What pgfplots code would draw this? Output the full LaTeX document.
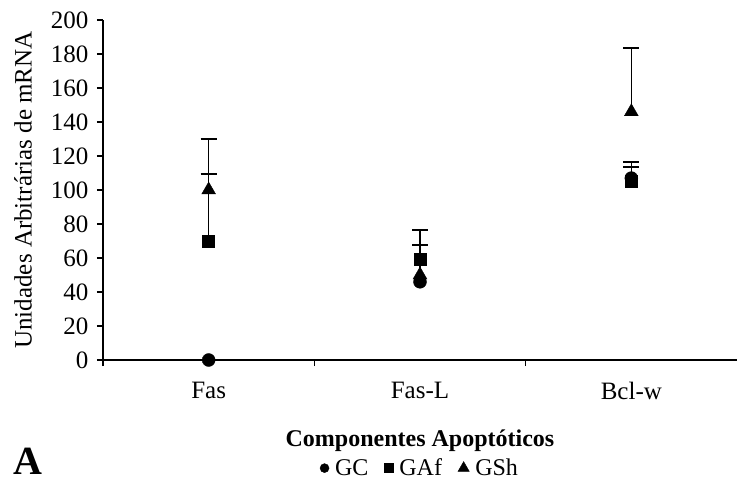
\documentclass[border=0pt]{standalone}
\usepackage{pgfplots}
\pgfplotsset{compat=1.18}
\usepackage{fontspec}
\setmainfont{Liberation Serif}
\begin{document}
\begin{tikzpicture}
\path[use as bounding box] (0,0) rectangle (738bp,483bp);
\begin{axis}[
  at={(103bp,123bp)}, anchor=south west,
  scale only axis, width=634bp, height=340bp,
  xmin=0, xmax=3, ymin=0, ymax=200,
  axis x line*=bottom, axis y line*=left,
  axis line style={-, line width=1.3bp, black},
  every tick/.style={black, line width=1.3bp},
  major tick length=6bp,
  tick align=outside,
  xtick={0,1,2}, xticklabels={},
  extra x ticks={0.5,1.5,2.5},
  extra x tick labels={Fas,Fas-L,Bcl-w},
  extra x tick style={major tick length=0pt, tick label style={yshift=-19bp}},
  ytick={0,20,...,200},
  /pgf/number format/assume math mode=true,
  tick label style={font=\fontsize{25bp}{28bp}\selectfont},
  yticklabel style={xshift=-5bp},
  xlabel={\textbf{Componentes Apoptóticos}},
  xlabel style={font=\fontsize{24bp}{27bp}\selectfont, at={(axis description cs:0.5,0)}, anchor=north, yshift=-66bp},
  ylabel={Unidades Arbitrárias de mRNA},
  ylabel style={font=\fontsize{25bp}{28bp}\selectfont, at={(axis description cs:-0.126,0.5)}, anchor=center},
  legend columns=3,
  legend style={draw=none, fill=none, font=\fontsize{24bp}{27bp}\selectfont,
    at={(axis description cs:0.5,-0.318)}, anchor=center, inner sep=0pt,
    /tikz/every odd column/.append style={column sep=4bp},
    /tikz/every even column/.append style={column sep=14bp}},
  clip=false,
]
\addplot[only marks, mark=*, mark size=6.5bp, black, legend image post style={mark size=4.5bp},
  error bars/.cd, y dir=plus, y explicit, error mark options={rotate=90, mark size=8bp, line width=1.5bp}, error bar style={line width=1.5bp}]
  coordinates {(0.5,0) (1.5,46) (2.5,107) +- (0,9.5)};
\addlegendentry{GC}
\addplot[only marks, mark=square*, mark size=6bp, black, legend image post style={mark size=4.5bp},
  error bars/.cd, y dir=plus, y explicit, error mark options={rotate=90, mark size=8bp, line width=1.5bp}, error bar style={line width=1.5bp}]
  coordinates {(0.5,70) +- (0,39.5) (1.5,59) +- (0,17.5) (2.5,105) +- (0,8.5)};
\addlegendentry{GAf}
\addplot[only marks, mark=triangle*, mark size=8bp, black, legend image post style={mark size=6.5bp},
  error bars/.cd, y dir=plus, y explicit, error mark options={rotate=90, mark size=8bp, line width=1.5bp}, error bar style={line width=1.5bp}]
  coordinates {(0.5,100) +- (0,30) (1.5,50) +- (0,17.5) (2.5,146) +- (0,37.5)};
\addlegendentry{GSh}
\end{axis}
\node[font=\fontsize{40bp}{42bp}\selectfont\bfseries, anchor=center] at (28bp,22bp) {A};
\end{tikzpicture}
\end{document}
